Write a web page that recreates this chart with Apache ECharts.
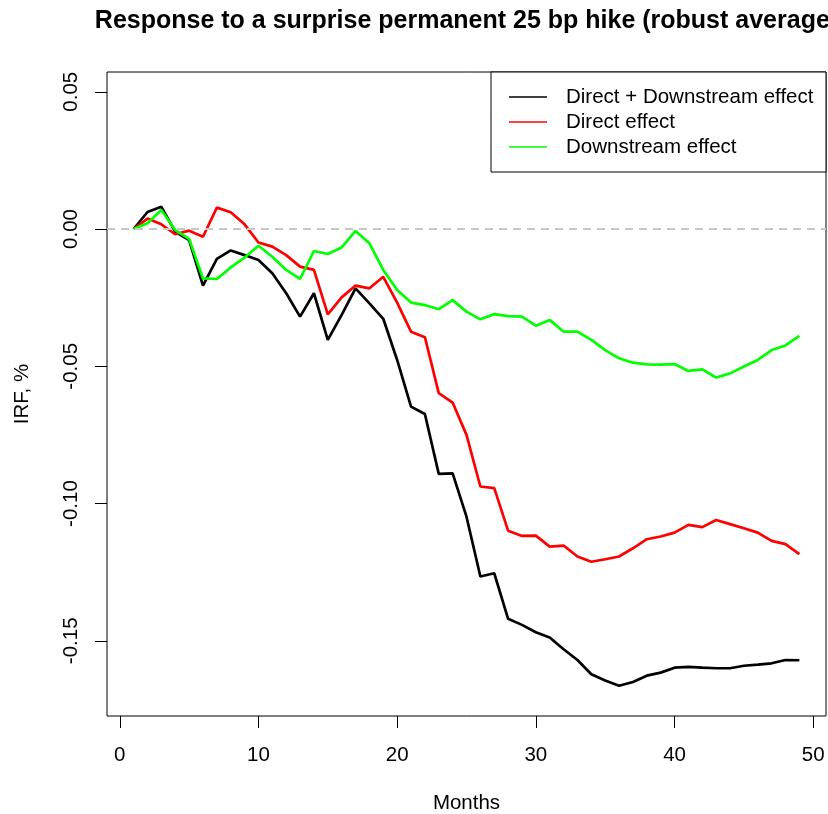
<!DOCTYPE html>
<html>
<head>
<meta charset="utf-8">
<title>IRF</title>
<script src="https://cdn.jsdelivr.net/npm/echarts@6/dist/echarts.min.js"></script>
<style>
  html, body { margin: 0; padding: 0; background: #fff; }
  #chart { width: 828px; height: 814px; }
</style>
</head>
<body>
<div id="chart"></div>
<script>
// Months after the shock
const months = [];
for (let m = 1; m <= 49; m++) months.push(m);

// Impulse responses, % (one value per month)
const totalEffect = [
  0, 0.0062, 0.0081, -0.0010, -0.0040, -0.0206, -0.0109, -0.0078, -0.0095, -0.0113,
  -0.0161, -0.0234, -0.0319, -0.0234, -0.0404, -0.0313, -0.0216, -0.0271, -0.0327, -0.0477,
  -0.0647, -0.0674, -0.0892, -0.0890, -0.1048, -0.1266, -0.1254, -0.1420, -0.1442, -0.1469,
  -0.1488, -0.1531, -0.1570, -0.1622, -0.1645, -0.1664, -0.1650, -0.1627, -0.1616, -0.1598,
  -0.1595, -0.1598, -0.1600, -0.1600, -0.1591, -0.1587, -0.1582, -0.1570, -0.1571
];
const directEffect = [
  0, 0.0038, 0.0017, -0.0019, -0.0006, -0.0028, 0.0078, 0.0061, 0.0017, -0.0049,
  -0.0064, -0.0095, -0.0137, -0.0149, -0.0311, -0.0249, -0.0206, -0.0216, -0.0174, -0.0268,
  -0.0374, -0.0394, -0.0598, -0.0632, -0.0750, -0.0938, -0.0944, -0.1099, -0.1118, -0.1117,
  -0.1157, -0.1153, -0.1193, -0.1212, -0.1203, -0.1193, -0.1163, -0.1130, -0.1120, -0.1106,
  -0.1078, -0.1086, -0.1060, -0.1075, -0.1090, -0.1106, -0.1136, -0.1148, -0.1184
];
const downstreamEffect = [
  0, 0.0021, 0.0069, -0.0004, -0.0036, -0.0180, -0.0182, -0.0140, -0.0104, -0.0061,
  -0.0101, -0.0149, -0.0182, -0.0080, -0.0091, -0.0067, -0.0007, -0.0052, -0.0149, -0.0222,
  -0.0268, -0.0277, -0.0292, -0.0259, -0.0301, -0.0329, -0.0310, -0.0317, -0.0319, -0.0352,
  -0.0331, -0.0374, -0.0374, -0.0404, -0.0441, -0.0471, -0.0487, -0.0493, -0.0494, -0.0492,
  -0.0517, -0.0511, -0.0541, -0.0526, -0.0501, -0.0477, -0.0441, -0.0424, -0.0389
];

const seriesNames = ['Direct + Downstream effect', 'Direct effect', 'Downstream effect'];
const xTicks = [0, 10, 20, 30, 40, 50];
const yTicks = [-0.15, -0.10, -0.05, 0.00, 0.05];

const FONT = '"Liberation Sans", Arial, Helvetica, sans-serif';
const pairs = vals => months.map((m, i) => [m, vals[i]]);

const chart = echarts.init(document.getElementById('chart'), null, { renderer: 'canvas' });

chart.setOption({
  animation: false,
  backgroundColor: '#ffffff',
  graphic: [{
    type: 'text',
    x: 466.5,
    y: 21.5,
    style: {
      text: 'Response to a surprise permanent 25 bp hike (robust average)',
      font: 'bold 25px ' + FONT,
      fill: '#000',
      textAlign: 'center',
      textVerticalAlign: 'middle'
    }
  }],
  grid: {
    left: 107, right: 2, top: 72, bottom: 98,
    outerBoundsMode: 'none',
    containLabel: false,
    show: true, borderColor: '#000', borderWidth: 1, backgroundColor: 'transparent'
  },
  legend: {
    orient: 'vertical',
    right: 2, top: 72,
    padding: [12.5, 9, 12.5, 18],
    itemGap: 0,
    itemWidth: 38,
    itemHeight: 1.6,
    icon: 'rect',
    borderColor: '#000', borderWidth: 1, borderRadius: 0,
    backgroundColor: '#fff',
    data: seriesNames,
    textStyle: {
      fontFamily: FONT, fontSize: 20.5, color: '#000',
      lineHeight: 21, width: 251, padding: [4, 0, 0, 14]
    }
  },
  xAxis: {
    type: 'value',
    min: -0.92, max: 50.92,
    name: 'Months',
    nameLocation: 'middle',
    nameGap: 77,
    nameTextStyle: { fontFamily: FONT, fontSize: 20.5, color: '#000' },
    axisLine: { show: false, onZero: false },
    axisTick: { show: true, length: 12, inside: false, customValues: xTicks, lineStyle: { color: '#000', width: 1 } },
    axisLabel: { customValues: xTicks, margin: 29, fontFamily: FONT, fontSize: 20.5, color: '#000' },
    splitLine: { show: false }
  },
  yAxis: {
    type: 'value',
    min: -0.1774, max: 0.0572,
    name: 'IRF, %',
    nameLocation: 'middle',
    nameRotate: 90,
    nameGap: 74,
    nameTextStyle: { fontFamily: FONT, fontSize: 20.5, color: '#000' },
    axisLine: { show: false, onZero: false },
    axisTick: { show: true, length: 12, inside: false, customValues: yTicks, lineStyle: { color: '#000', width: 1 } },
    axisLabel: {
      customValues: yTicks, rotate: 90, margin: 25,
      fontFamily: FONT, fontSize: 20.5, color: '#000',
      formatter: v => v.toFixed(2)
    },
    splitLine: { show: false }
  },
  series: [
    {
      name: seriesNames[0], type: 'line', data: pairs(totalEffect),
      symbol: 'none', color: '#000000', lineStyle: { width: 2.7, color: '#000000' },
      markLine: {
        silent: true, symbol: 'none', label: { show: false },
        lineStyle: { color: '#c8c8c8', type: [8, 6], width: 2 },
        data: [{ yAxis: 0 }]
      },
      z: 2
    },
    {
      name: seriesNames[1], type: 'line', data: pairs(directEffect),
      symbol: 'none', color: '#ff0000', lineStyle: { width: 2.7, color: '#ff0000' }, z: 3
    },
    {
      name: seriesNames[2], type: 'line', data: pairs(downstreamEffect),
      symbol: 'none', color: '#00ff00', lineStyle: { width: 2.7, color: '#00ff00' }, z: 4
    }
  ]
});
</script>
</body>
</html>
